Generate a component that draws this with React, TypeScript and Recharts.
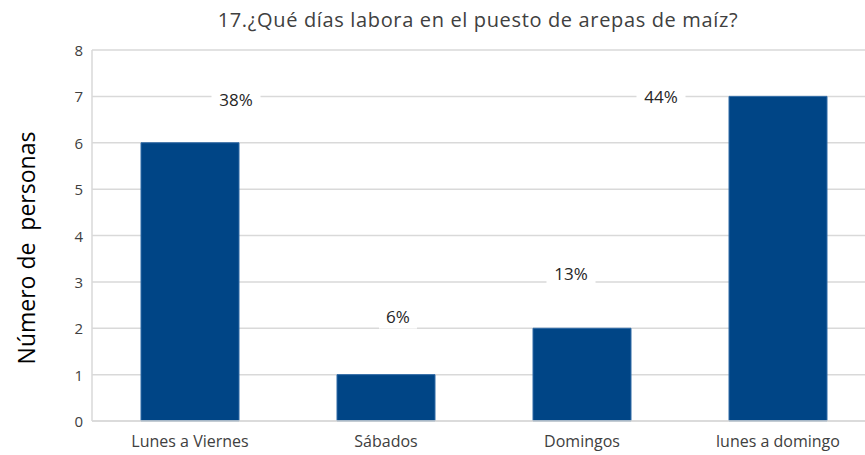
import React from "react";
import { BarChart, Bar, XAxis, YAxis, CartesianGrid, LabelList } from "recharts";

const categories = ["Lunes a Viernes", "Sábados", "Domingos", "lunes a domingo"];
const personas = [6, 1, 2, 7];
const percentLabels = ["38%", "6%", "13%", "44%"];
const yTicks = [0, 1, 2, 3, 4, 5, 6, 7, 8];

// label placement offsets (pixels, relative to bar top-center), style only
const labelOffsets = [
  { dx: 46, dy: -43 },
  { dx: 12, dy: -58 },
  { dx: -11, dy: -55 },
  { dx: -117, dy: 0 },
];

const data = categories.map((c, i) => ({ name: c, value: personas[i], pct: percentLabels[i] }));

const FONT = "'Open Sans', 'Noto Sans', sans-serif";

const PctLabel = (props: any) => {
  const { x, y, width, index } = props;
  const off = labelOffsets[index] || { dx: 0, dy: 0 };
  const cx = x + width / 2 + off.dx;
  const cy = y + off.dy;
  const text = percentLabels[index];
  const w = text.length * 11 + 16;
  return (
    <g>
      <rect x={cx - w / 2} y={cy - 12} width={w} height={24} fill="#ffffff" />
      <text x={cx} y={cy} textAnchor="middle" dominantBaseline="central" fontSize={17} fill="#262626" fontFamily={FONT}>
        {text}
      </text>
    </g>
  );
};

const XTick = (props: any) => {
  const { x, y, payload } = props;
  return (
    <text x={x} y={y + 4} textAnchor="middle" dominantBaseline="central" fontSize={16} fill="#404040" fontFamily={FONT}>
      {payload.value}
    </text>
  );
};

const YTick = (props: any) => {
  const { x, y, payload } = props;
  return (
    <text x={x} y={y} textAnchor="end" dominantBaseline="central" fontSize={15} fill="#404040" fontFamily={FONT}>
      {payload.value}
    </text>
  );
};

export default function App() {
  return (
    <div style={{ position: "fixed", left: 0, top: 0, width: 865, height: 455, overflow: "hidden", background: "#fff" }}>
      <BarChart
        width={880}
        height={455}
        data={data}
        margin={{ top: 50, right: 4, bottom: 4, left: 0 }}
        barSize={98}
        style={{ overflow: "visible" }}
      >
        <text x={478} y={19} textAnchor="middle" dominantBaseline="central" fontSize={20} letterSpacing={0.65} fill="#404040" fontFamily={FONT}>
          17.¿Qué días labora en el puesto de arepas de maíz?
        </text>
        <text
          x={26}
          y={248}
          transform="rotate(-90 26 248)"
          textAnchor="middle"
          dominantBaseline="central"
          fontSize={23}
          fill="#000000"
          fontFamily={FONT}
          style={{ whiteSpace: "pre" }}
        >
          Número de  personas
        </text>
        <CartesianGrid vertical={false} stroke="#d9d9d9" strokeWidth={1.5} />
        <XAxis
          dataKey="name"
          height={30}
          tickLine={false}
          axisLine={{ stroke: "#d9d9d9", strokeWidth: 1.5 }}
          tickMargin={10}
          tick={<XTick />}
          interval={0}
        />
        <YAxis
          width={92}
          domain={[0, 8]}
          ticks={yTicks}
          tickLine={false}
          axisLine={{ stroke: "#d9d9d9", strokeWidth: 1.5 }}
          tickMargin={3}
          tick={<YTick />}
        />
        <Bar dataKey="value" fill="#004586" stroke="#2f6aa6" strokeWidth={1} isAnimationActive={false}>
          <LabelList dataKey="pct" content={<PctLabel />} />
        </Bar>
      </BarChart>
    </div>
  );
}
